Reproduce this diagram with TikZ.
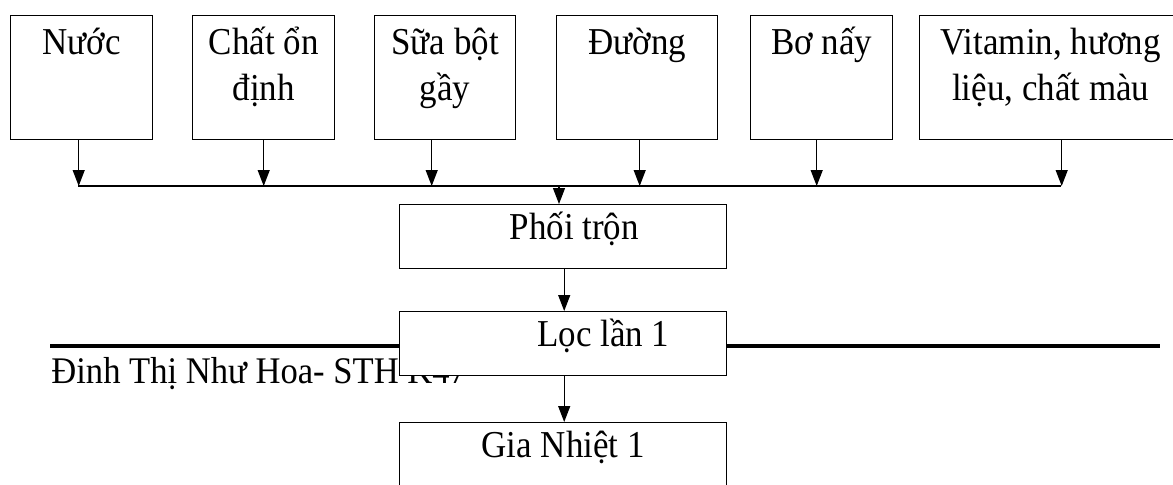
\documentclass[tikz,border=0pt]{standalone}
\usepackage{fontspec}
\setmainfont{Liberation Serif}[FakeStretch=0.92]
\usetikzlibrary{arrows.meta}

\newcommand\toptext[2]{\parbox[t][62pt][t]{#1}{\centering\rule{0pt}{19.5pt}#2}}
\newcommand\steptext[2]{\parbox[t][32pt][t]{163.5pt}{\centering\rule{0pt}{17.5pt}\hspace*{#1}#2}}

\begin{document}
\begin{tikzpicture}[x=0.5pt,y=-0.5pt,
  box/.style={draw,fill=white,inner sep=0pt,line width=0.7pt,anchor=north west},
  arr/.style={-{Triangle[length=8pt,width=6pt]},line width=0.6pt},
  font=\fontsize{19}{23}\selectfont]
\useasboundingbox (0,0) rectangle (1173,484);
% footer line and name
\coordinate (ruleL) at (50,346);
\coordinate (ruleR) at (1160,346);
\draw[line width=2pt] (ruleL) -- (ruleR);
\node[anchor=base west,inner sep=0pt,font=\fontsize{18.8}{22}\selectfont] (footer) at (51,383) {Đinh Thị Như Hoa- STH K47};
% ingredients
\node[box] (nuoc) at (10,15) {\toptext{71pt}{Nước}};
\node[box] (onDinh) at (192,15) {\toptext{71pt}{Chất ổn\\định}};
\node[box] (suaBot) at (374,15) {\toptext{70.5pt}{Sữa bột\\gầy}};
\node[box] (duong) at (556,15) {\toptext{80.5pt}{Đường}};
\node[box] (bo) at (750,15) {\toptext{71pt}{Bơ nấy}};
\node[box] (vitamin) at (919,15) {\toptext{131pt}{Vitamin, hương\\liệu, chất màu}};
\coordinate (busL) at (78,186);
\coordinate (busR) at (1061,186);
\draw[line width=0.6pt] (busL) -- (busR);
\foreach \n/\dx in {nuoc/-1.5pt,onDinh/0pt,suaBot/-6.75pt,duong/1.25pt,bo/-2.5pt,vitamin/5.5pt}
  \draw[arr] ([xshift=\dx]\n.south) coordinate (top) -- (top |- busL);
% process steps
\node[box] (phoiTron) at (399,204) {\steptext{11pt}{Phối trộn}};
\node[box] (loc1) at (399,311) {\steptext{40pt}{Lọc lần 1}};
\node[box] (giaNhiet) at (399,422) {\steptext{0pt}{Gia Nhiệt 1}};
\coordinate (busM) at (559,186);
\draw[arr] (busM) -- (busM |- phoiTron.north);
\draw[arr] ([xshift=0.5pt]phoiTron.south) -- ([xshift=0.5pt]loc1.north);
\draw[arr] ([xshift=0.5pt]loc1.south) -- ([xshift=0.5pt]giaNhiet.north);
\end{tikzpicture}
\end{document}
